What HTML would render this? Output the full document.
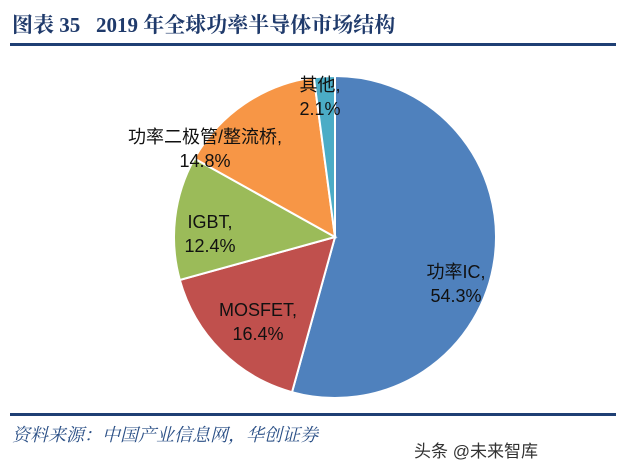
<!DOCTYPE html>
<html><head><meta charset="utf-8"><style>
body{margin:0;width:620px;height:468px;background:#fff;overflow:hidden;position:relative;font-family:"Liberation Sans","Noto Sans CJK SC",sans-serif}
.t{position:absolute;white-space:nowrap}
</style></head><body>
<div class="t" style="left:12px;top:9px;font-family:'Liberation Serif','Noto Serif CJK SC',serif;font-weight:bold;font-size:21px;color:#1f3a6b">图表 35&nbsp;&nbsp; 2019 年全球功率半导体市场结构</div>
<div style="position:absolute;left:10px;top:43px;width:606px;height:3px;background:#1f3f74"></div>
<svg id="pie" width="620" height="468" style="position:absolute;left:0;top:0"></svg>
<div style="position:absolute;left:10px;top:413px;width:606px;height:3px;background:#1f3f74"></div>
<div class="t" style="left:12px;top:421px;font-size:18px;font-style:italic;color:#2a4f86;font-family:'Liberation Serif','Noto Serif CJK SC',serif">资料来源：中国产业信息网，华创证券</div>
<div class="t" style="left:414px;top:437px;font-size:17px;color:#333">头条 @未来智库</div>
<script>
const categories=["功率IC","MOSFET","IGBT","功率二极管/整流桥","其他"];
const values=[54.3,16.4,12.4,14.8,2.1];
const valueLabels=["54.3%","16.4%","12.4%","14.8%","2.1%"];
const colors=["#4f81bd","#c0504d","#9bbb59","#f79646","#4bacc6"];
const labelPos=[[456,278],[258,316],[210,228],[205,143],[320,91]];
const cx=335,cy=237,r=161;
const svg=document.getElementById('pie');
const ns="http://www.w3.org/2000/svg";
const total=values.reduce((a,b)=>a+b,0);
let a0=-Math.PI/2;
values.forEach((v,i)=>{
  const a1=a0+v/total*2*Math.PI;
  const x0=cx+r*Math.cos(a0),y0=cy+r*Math.sin(a0),x1=cx+r*Math.cos(a1),y1=cy+r*Math.sin(a1);
  const p=document.createElementNS(ns,'path');
  p.setAttribute('d',`M${cx},${cy}L${x0},${y0}A${r},${r} 0 ${a1-a0>Math.PI?1:0} 1 ${x1},${y1}Z`);
  p.setAttribute('fill',colors[i]);p.setAttribute('stroke','#fff');p.setAttribute('stroke-width','2');
  
  
  svg.appendChild(p);
  a0=a1;
});
categories.forEach((c,i)=>{
  const t=document.createElementNS(ns,'text');
  t.setAttribute('x',labelPos[i][0]);t.setAttribute('y',labelPos[i][1]);
  t.setAttribute('text-anchor','middle');t.setAttribute('font-size','18');t.setAttribute('fill','#111');
  
  
  const s1=document.createElementNS(ns,'tspan');s1.setAttribute('x',labelPos[i][0]);s1.textContent=c+',';
  const s2=document.createElementNS(ns,'tspan');s2.setAttribute('x',labelPos[i][0]);s2.setAttribute('dy','24');s2.textContent=valueLabels[i];
  t.appendChild(s1);t.appendChild(s2);svg.appendChild(t);
});
</script>
</body></html>
